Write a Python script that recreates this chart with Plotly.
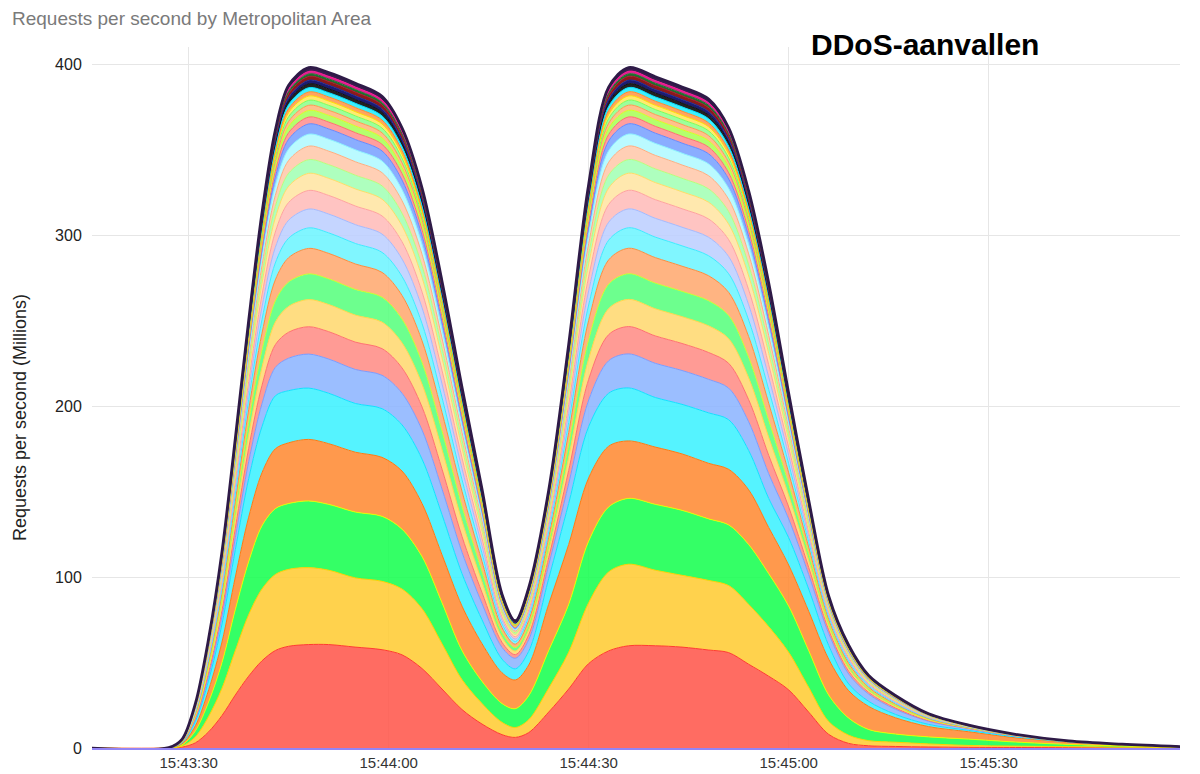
import plotly.graph_objects as go
from datetime import datetime, timedelta

# ---------------- data ----------------
BASE = datetime(2023, 8, 28, 15, 43, 0)
T_SEC = [15, 27, 29, 31, 33, 35, 37, 39, 41, 43, 45, 48, 51, 55, 59, 62, 65, 68, 71, 74,
         77, 79, 81, 84, 87, 90, 93, 96, 100, 104, 108, 111, 114, 117, 120, 123, 126, 129, 132, 136,
         141, 147, 154, 162, 170, 179]

RED = [0, 0, 0.5, 3, 9.5, 19, 31, 42, 51, 57, 59.5, 60.5, 60.5, 59, 57.5, 54.5, 46.5, 34.5, 22.5, 14,
       7.8, 6.2, 9, 21, 34.5, 49.4, 56.8, 59.8, 59.8, 59, 57.3, 55.8, 49, 42, 34, 21, 8, 2.7, 1.3, 0.9,
       0.6, 0.4, 0.3, 0.2, 0.15, 0.1]
YELLOW = [0, 0, 0.6, 3.5, 9, 16, 26, 36, 42, 44.5, 45, 45, 43.5, 40.5, 40, 38.5, 35, 26.5, 17.5, 12,
          7.2, 5.8, 7.5, 14, 21.5, 35.6, 46.2, 47.7, 44.2, 42, 40.7, 39.2, 35, 29, 22, 14.5, 7.5, 4.8, 3, 2.5,
          1.8, 1.1, 0.8, 0.6, 0.35, 0.1]
GREEN = [0, 0, 0.7, 3.5, 8.5, 15, 24, 31, 37, 38.5, 38.5, 39, 38.5, 38.5, 38, 35, 30.5, 24, 17, 13,
         11, 11, 14, 22, 28, 36, 38, 38.5, 38.5, 38, 36, 35.5, 35, 31, 27, 21.5, 15.5, 10, 6.5, 4.8,
         4.1, 3.7, 2.4, 1.3, 0.7, 0.25]
ORANGE = [0, 0.02, 0.6, 3, 7, 12, 19, 26, 31, 35, 35.5, 36, 35.5, 35, 34.5, 34, 31, 28, 26, 22,
          18, 16.8, 18, 27, 35, 37, 35.5, 33.6, 33.5, 33, 32.5, 32.5, 32, 27, 24, 23, 21, 16, 13.5, 9.5,
          6, 4.3, 2.5, 1.3, 0.7, 0.2]
CYAN = [0, 0.03, 0.6, 2.6, 5.7, 10.5, 16, 22.5, 27, 31, 30.5, 30, 29.5, 28.5, 28.5, 27, 26, 23.5, 19, 14,
        8, 6.5, 8, 15, 24, 30, 31, 31, 29, 29, 29.5, 29, 23, 17, 16, 13, 8, 4, 3, 2,
        1.3, 0.8, 0.5, 0.2, 0.1, 0.05]
BLUE = [0, 0.02, 0.2, 1.1, 2.6, 4.5, 7.0, 9.9, 13.4, 16.6, 19.0, 19.9, 20.0, 19.9, 19.5, 18.5, 17.0, 15.0, 12.5, 9.5,
        6.8, 6.2, 6.8, 8.0, 11.5, 15.5, 19.0, 19.9, 20.0, 19.8, 19.6, 18.5, 16.8, 14.5, 11.0, 8.5, 7.0, 5.8, 4.2, 3.0,
        1.8, 1.0, 0.5, 0.2, 0.08, 0.03]
SALMON = [0, 0.02, 0.18, 0.9, 2.1, 3.6, 5.6, 7.9, 10.7, 13.3, 15.2, 16.0, 16.0, 16.0, 15.6, 14.8, 13.5, 11.6, 9.2, 6.4,
          3.0, 2.1, 2.9, 4.2, 7.8, 12.1, 15.3, 16.0, 16.0, 15.8, 15.7, 14.5, 12.9, 10.7, 7.0, 4.2, 2.1, 1.6, 1.0, 0.77,
          0.42, 0.19, 0.1, 0.03, 0.02, 0.01]
LIGHT_YELLOW = [0, 0.02, 0.18, 0.9, 2.1, 3.5, 5.5, 7.8, 10.6, 13.2, 15.1, 15.9, 15.9, 15.8, 15.5, 14.7, 13.4, 11.5, 9.1, 6.3,
                3.0, 2.1, 2.9, 4.2, 7.7, 12.0, 15.2, 15.9, 15.9, 15.7, 15.6, 14.4, 12.8, 10.6, 6.9, 4.1, 2.1, 1.6, 1.0, 0.76,
                0.41, 0.19, 0.1, 0.03, 0.02, 0.01]
LIGHT_GREEN = [0, 0.02, 0.17, 0.8, 2.0, 3.4, 5.2, 7.4, 10.0, 12.4, 14.3, 15.0, 15.0, 15.0, 14.6, 13.9, 12.7, 10.9, 8.7, 6.0,
               2.8, 2.0, 2.7, 3.9, 7.3, 11.3, 14.3, 15.0, 15.0, 14.8, 14.7, 13.6, 12.1, 10.0, 6.6, 3.9, 2.0, 1.5, 1.0, 0.72,
               0.39, 0.18, 0.09, 0.03, 0.02, 0.01]
LIGHT_ORANGE = [0, 0.02, 0.17, 0.8, 1.9, 3.3, 5.1, 7.3, 9.9, 12.3, 14.2, 14.9, 14.9, 14.9, 14.5, 13.8, 12.6, 10.8, 8.6, 5.9,
                2.8, 2.0, 2.7, 3.9, 7.2, 11.2, 14.2, 14.9, 14.9, 14.7, 14.6, 13.5, 12.0, 9.9, 6.5, 3.9, 2.0, 1.5, 1.0, 0.71,
                0.39, 0.18, 0.09, 0.03, 0.02, 0.01]
LIGHT_CYAN = [0, 0.01, 0.13, 0.7, 1.6, 2.7, 4.2, 5.9, 8.0, 9.9, 11.4, 12.0, 12.0, 12.0, 11.7, 11.1, 10.1, 8.7, 6.9, 4.8,
              2.2, 1.6, 2.2, 3.1, 5.8, 9.0, 11.5, 12.0, 12.0, 11.9, 11.7, 10.9, 9.7, 8.0, 5.3, 3.1, 1.6, 1.2, 0.78, 0.58,
              0.31, 0.14, 0.07, 0.02, 0.01, 0.01]
LAVENDER = [0, 0.01, 0.12, 0.6, 1.4, 2.5, 3.8, 5.4, 7.3, 9.1, 10.5, 11.0, 11.0, 11.0, 10.7, 10.2, 9.3, 8.0, 6.4, 4.4,
            2.0, 1.4, 2.0, 2.9, 5.4, 8.3, 10.5, 11.0, 11.0, 10.9, 10.8, 10.0, 8.9, 7.3, 4.8, 2.9, 1.4, 1.1, 0.72, 0.53,
            0.29, 0.13, 0.07, 0.02, 0.01, 0.01]
PINK = [0, 0.01, 0.12, 0.6, 1.4, 2.4, 3.7, 5.3, 7.2, 9.0, 10.4, 10.9, 10.9, 10.9, 10.6, 10.1, 9.2, 7.9, 6.3, 4.4,
        2.0, 1.4, 2.0, 2.8, 5.3, 8.2, 10.4, 10.9, 10.9, 10.8, 10.7, 9.9, 8.8, 7.2, 4.8, 2.8, 1.4, 1.1, 0.71, 0.52,
        0.28, 0.13, 0.07, 0.02, 0.01, 0.01]
CREAM = [0, 0.01, 0.11, 0.6, 1.3, 2.3, 3.5, 5.0, 6.7, 8.3, 9.5, 10.0, 10.0, 10.0, 9.8, 9.3, 8.5, 7.3, 5.8, 4.0,
         1.9, 1.3, 1.8, 2.6, 4.9, 7.5, 9.6, 10.0, 10.0, 9.9, 9.8, 9.1, 8.1, 6.7, 4.4, 2.6, 1.3, 1.0, 0.65, 0.48,
         0.26, 0.12, 0.06, 0.02, 0.01, 0.01]
MINT = [0, 0.01, 0.09, 0.4, 1.0, 1.8, 2.8, 4.0, 5.3, 6.6, 7.6, 8.0, 8.0, 8.0, 7.8, 7.4, 6.8, 5.8, 4.6, 3.2,
        1.5, 1.0, 1.4, 2.1, 3.9, 6.0, 7.6, 8.0, 8.0, 7.9, 7.8, 7.3, 6.5, 5.3, 3.5, 2.1, 1.0, 0.8, 0.52, 0.38,
        0.21, 0.1, 0.05, 0.02, 0.01, 0.0]
PEACH = [0, 0.01, 0.09, 0.4, 1.0, 1.8, 2.7, 3.9, 5.2, 6.5, 7.5, 7.9, 7.9, 7.9, 7.7, 7.3, 6.7, 5.7, 4.5, 3.1,
         1.5, 1.0, 1.4, 2.0, 3.8, 5.9, 7.5, 7.9, 7.9, 7.8, 7.7, 7.2, 6.4, 5.2, 3.4, 2.0, 1.0, 0.8, 0.51, 0.37,
         0.2, 0.1, 0.05, 0.02, 0.01, 0.0]
PALE_CYAN = [0, 0.01, 0.08, 0.4, 0.9, 1.6, 2.4, 3.5, 4.7, 5.8, 6.7, 7.0, 7.0, 7.0, 6.8, 6.5, 5.9, 5.1, 4.0, 2.8,
             1.3, 0.9, 1.3, 1.8, 3.4, 5.3, 6.7, 7.0, 7.0, 6.9, 6.9, 6.4, 5.6, 4.7, 3.1, 1.8, 0.9, 0.7, 0.46, 0.34,
             0.18, 0.08, 0.04, 0.01, 0.01, 0.0]
BLUE_2 = [0, 0.01, 0.07, 0.3, 0.8, 1.4, 2.1, 3.0, 4.0, 5.0, 5.7, 6.0, 6.0, 6.0, 5.9, 5.6, 5.1, 4.4, 3.5, 2.4,
          1.1, 0.8, 1.1, 1.6, 2.9, 4.5, 5.7, 6.0, 6.0, 5.9, 5.9, 5.5, 4.8, 4.0, 2.6, 1.6, 0.8, 0.6, 0.39, 0.29,
          0.16, 0.07, 0.04, 0.01, 0.01, 0.0]
SALMON_2 = [0, 0.0, 0.04, 0.2, 0.5, 0.9, 1.4, 2.0, 2.7, 3.3, 3.8, 4.0, 4.0, 4.0, 3.9, 3.7, 3.4, 2.9, 2.3, 1.6,
            0.74, 0.52, 0.72, 1.0, 1.9, 3.0, 3.8, 4.0, 4.0, 4.0, 3.9, 3.6, 3.2, 2.7, 1.8, 1.0, 0.52, 0.4, 0.26, 0.19,
            0.1, 0.05, 0.02, 0.01, 0.0, 0.0]
LIME = [0, 0.0, 0.04, 0.2, 0.5, 0.9, 1.4, 1.9, 2.6, 3.2, 3.7, 3.9, 3.9, 3.9, 3.8, 3.6, 3.3, 2.8, 2.2, 1.6,
        0.72, 0.5, 0.7, 1.0, 1.9, 2.9, 3.7, 3.9, 3.9, 3.9, 3.8, 3.5, 3.1, 2.6, 1.7, 1.0, 0.5, 0.39, 0.25, 0.18,
        0.1, 0.05, 0.02, 0.01, 0.0, 0.0]
PALE_ORANGE = [0, 0.0, 0.03, 0.17, 0.4, 0.7, 1.0, 1.5, 2.0, 2.5, 2.9, 3.0, 3.0, 3.0, 2.9, 2.8, 2.5, 2.2, 1.7, 1.2,
               0.56, 0.39, 0.54, 0.78, 1.5, 2.3, 2.9, 3.0, 3.0, 3.0, 2.9, 2.7, 2.4, 2.0, 1.3, 0.78, 0.39, 0.3, 0.2, 0.14,
               0.08, 0.04, 0.02, 0.01, 0.0, 0.0]
PALE_GREEN = [0, 0.0, 0.03, 0.16, 0.4, 0.7, 1.0, 1.4, 1.9, 2.4, 2.8, 2.9, 2.9, 2.9, 2.8, 2.7, 2.5, 2.1, 1.7, 1.2,
              0.54, 0.38, 0.52, 0.76, 1.4, 2.2, 2.8, 2.9, 2.9, 2.9, 2.8, 2.6, 2.3, 1.9, 1.3, 0.76, 0.38, 0.29, 0.19, 0.14,
              0.08, 0.04, 0.02, 0.01, 0.0, 0.0]
YELLOW_2 = [0, 0.0, 0.03, 0.14, 0.33, 0.57, 0.87, 1.2, 1.7, 2.1, 2.4, 2.5, 2.5, 2.5, 2.4, 2.3, 2.1, 1.8, 1.4, 1.0,
            0.46, 0.33, 0.45, 0.65, 1.2, 1.9, 2.4, 2.5, 2.5, 2.5, 2.4, 2.3, 2.0, 1.7, 1.1, 0.65, 0.33, 0.25, 0.16, 0.12,
            0.07, 0.03, 0.02, 0.01, 0.0, 0.0]
ORANGE_2 = [0, 0.0, 0.03, 0.14, 0.32, 0.56, 0.86, 1.2, 1.6, 2.0, 2.3, 2.4, 2.4, 2.4, 2.3, 2.2, 2.0, 1.7, 1.4, 1.0,
            0.45, 0.32, 0.44, 0.63, 1.2, 1.8, 2.3, 2.4, 2.4, 2.4, 2.3, 2.2, 1.9, 1.6, 1.1, 0.63, 0.32, 0.24, 0.16, 0.12,
            0.07, 0.03, 0.02, 0.01, 0.0, 0.0]
CYAN_2 = [0, 0.0, 0.03, 0.14, 0.33, 0.57, 0.87, 1.2, 1.7, 2.1, 2.4, 2.5, 2.5, 2.5, 2.4, 2.3, 2.1, 1.8, 1.4, 1.0,
          0.46, 0.33, 0.45, 0.65, 1.2, 1.9, 2.4, 2.5, 2.5, 2.5, 2.4, 2.3, 2.0, 1.7, 1.1, 0.65, 0.33, 0.25, 0.16, 0.12,
          0.07, 0.03, 0.02, 0.01, 0.0, 0.0]
BLACK = [0, 0.0, 0.02, 0.12, 0.29, 0.5, 0.77, 1.09, 1.47, 1.82, 2.09, 2.19, 2.2, 2.19, 2.15, 2.04, 1.86, 1.6, 1.27, 0.88,
         0.41, 0.29, 0.4, 0.57, 1.07, 1.66, 2.1, 2.19, 2.2, 2.18, 2.15, 2.0, 1.78, 1.47, 0.97, 0.57, 0.29, 0.22, 0.14, 0.11,
         0.06, 0.03, 0.01, 0.0, 0.0, 0.0]
NAVY = [0, 0.0, 0.02, 0.12, 0.28, 0.49, 0.75, 1.06, 1.43, 1.78, 2.04, 2.14, 2.15, 2.14, 2.1, 1.99, 1.82, 1.56, 1.24, 0.86,
        0.4, 0.28, 0.39, 0.56, 1.05, 1.62, 2.05, 2.14, 2.15, 2.13, 2.1, 1.95, 1.74, 1.44, 0.94, 0.56, 0.28, 0.21, 0.14, 0.1,
        0.06, 0.03, 0.01, 0.0, 0.0, 0.0]
DARK_RED = [0, 0.0, 0.02, 0.12, 0.29, 0.5, 0.77, 1.09, 1.47, 1.82, 2.09, 2.19, 2.2, 2.19, 2.15, 2.04, 1.86, 1.6, 1.27, 0.88,
            0.41, 0.29, 0.4, 0.57, 1.07, 1.66, 2.1, 2.19, 2.2, 2.18, 2.15, 2.0, 1.78, 1.47, 0.97, 0.57, 0.29, 0.22, 0.14, 0.11,
            0.06, 0.03, 0.01, 0.0, 0.0, 0.0]
DARK_GREEN = [0, 0.0, 0.02, 0.08, 0.2, 0.34, 0.52, 0.74, 1.0, 1.24, 1.43, 1.5, 1.5, 1.5, 1.46, 1.39, 1.27, 1.09, 0.87, 0.6,
              0.28, 0.2, 0.27, 0.39, 0.73, 1.13, 1.43, 1.5, 1.5, 1.48, 1.47, 1.36, 1.21, 1.0, 0.66, 0.39, 0.2, 0.15, 0.1, 0.07,
              0.04, 0.02, 0.01, 0.0, 0.0, 0.0]
MAGENTA = [0, 0.0, 0.02, 0.08, 0.2, 0.34, 0.52, 0.74, 1.0, 1.24, 1.43, 1.5, 1.5, 1.5, 1.46, 1.39, 1.27, 1.09, 0.87, 0.6,
           0.28, 0.2, 0.27, 0.39, 0.73, 1.13, 1.43, 1.5, 1.5, 1.48, 1.47, 1.36, 1.21, 1.0, 0.66, 0.39, 0.2, 0.15, 0.1, 0.07,
           0.04, 0.02, 0.01, 0.0, 0.0, 0.0]
PURPLE = [0, 0.0, 0.02, 0.12, 0.29, 0.5, 0.77, 1.09, 1.47, 1.82, 2.09, 2.19, 2.2, 2.19, 2.15, 2.04, 1.86, 1.6, 1.27, 0.88,
          0.41, 0.29, 0.4, 0.57, 1.07, 1.66, 2.1, 2.19, 2.2, 2.18, 2.15, 2.0, 1.78, 1.47, 0.97, 0.57, 0.29, 0.22, 0.14, 0.11,
          0.06, 0.03, 0.01, 0.0, 0.0, 0.0]

# (series values, fill colour as seen on white, line colour), bottom to top
SERIES = [
    ("Area 01", RED, (255, 108, 98), "#FF3B30"),
    ("Area 02", YELLOW, (255, 210, 77), "#FFD000"),
    ("Area 03", GREEN, (52, 255, 102), "#E2FF00"),
    ("Area 04", ORANGE, (255, 153, 77), "#FF7A10"),
    ("Area 05", CYAN, (85, 243, 255), "#10E2FF"),
    ("Area 06", BLUE, (155, 190, 255), "#7B9CFF"),
    ("Area 07", SALMON, (255, 155, 150), "#FF7070"),
    ("Area 08", LIGHT_YELLOW, (255, 221, 130), "#FFD84A"),
    ("Area 09", LIGHT_GREEN, (110, 255, 142), "#C8FF2E"),
    ("Area 10", LIGHT_ORANGE, (255, 180, 130), "#FF8C3C"),
    ("Area 11", LIGHT_CYAN, (128, 246, 255), "#3DEBFF"),
    ("Area 12", LAVENDER, (197, 213, 255), "#A3BAFF"),
    ("Area 13", PINK, (255, 196, 194), "#FFA2A0"),
    ("Area 14", CREAM, (255, 232, 174), "#FFDD66"),
    ("Area 15", MINT, (174, 255, 190), "#B8FF7A"),
    ("Area 16", PEACH, (255, 207, 181), "#FFAE80"),
    ("Area 17", PALE_CYAN, (186, 250, 255), "#8CF3FF"),
    ("Area 18", BLUE_2, (138, 173, 255), "#6489FF"),
    ("Area 19", SALMON_2, (255, 158, 158), "#FF7070"),
    ("Area 20", LIME, (180, 255, 110), "#D8FF20"),
    ("Area 21", PALE_ORANGE, (255, 192, 140), "#FF9A50"),
    ("Area 22", PALE_GREEN, (156, 255, 156), "#7CFF5A"),
    ("Area 23", YELLOW_2, (255, 234, 112), "#FFE000"),
    ("Area 24", ORANGE_2, (255, 164, 96), "#FF8A2A"),
    ("Area 25", CYAN_2, (60, 240, 255), "#00E0FF"),
    ("Area 26", BLACK, (34, 34, 34), "#111111"),
    ("Area 27", NAVY, (28, 28, 112), "#1A2A9A"),
    ("Area 28", DARK_RED, (139, 26, 26), "#B0102A"),
    ("Area 29", DARK_GREEN, (30, 110, 46), "#1E7A30"),
    ("Area 30", MAGENTA, (224, 32, 143), "#FF1493"),
    ("Area 31", PURPLE, (58, 30, 80), "#2E1A47"),
]

for name, vals, _, _ in SERIES:
    assert len(vals) == len(T_SEC), (name, len(vals))

TITLE = "Requests per second by Metropolitan Area"
BADGE = "DDoS-aanvallen"
Y_TITLE = "Requests per second (Millions)"

# ---------------- figure ----------------
FONT = "Liberation Sans, Arial, sans-serif"
times = [BASE + timedelta(seconds=s) for s in T_SEC]


def fill_rgba(comp, a=0.85):
    base = [(c - (1 - a) * 255) / a for c in comp]
    if min(base) < 0:
        return "rgb(%d,%d,%d)" % comp
    return "rgba(%d,%d,%d,%.2f)" % (round(base[0]), round(base[1]), round(base[2]), a)


fig = go.Figure()
n = len(SERIES)
for i, (name, vals, comp, lc) in enumerate(SERIES):
    top = i == n - 1
    fig.add_trace(go.Scatter(
        x=times, y=vals, name=name, mode="lines", stackgroup="metro",
        line=dict(color=lc, width=2.8 if top else 1, shape="spline", smoothing=0.9),
        fillcolor=fill_rgba(comp), showlegend=False, hoverinfo="skip",
    ))

fmt = "%Y-%m-%d %H:%M:%S.%f"
x0 = (BASE + timedelta(seconds=15.5)).strftime(fmt)
x1 = (BASE + timedelta(seconds=178.7)).strftime(fmt)

fig.update_layout(
    width=1200, height=774,
    margin=dict(l=92, r=20, t=47, b=26, autoexpand=False),
    paper_bgcolor="white", plot_bgcolor="white",
    font=dict(family=FONT, color="#333333"),
    showlegend=False,
    title=dict(text=TITLE, x=12 / 1200, xanchor="left", xref="container",
               y=1 - 18 / 774, yanchor="middle", yref="container",
               font=dict(family=FONT, size=19, color="#7a7a7a")),
    xaxis=dict(type="date", range=[x0, x1], tickformat="%H:%M:%S",
               tick0=BASE.strftime(fmt), dtick=30000, automargin=False,
               showgrid=True, gridcolor="#e6e6e6", gridwidth=1, zeroline=False,
               showline=True, linecolor="#9384f5", linewidth=2,
               ticks="", tickfont=dict(family=FONT, size=15, color="#333333")),
    yaxis=dict(range=[0, 410], tick0=0, dtick=100, automargin=False,
               showgrid=True, gridcolor="#e6e6e6", gridwidth=1, zeroline=False,
               ticks="outside", ticklen=6, tickcolor="rgba(0,0,0,0)",
               tickfont=dict(family=FONT, size=16, color="#222222")),
    annotations=[
        dict(text=BADGE, xref="paper", yref="paper",
             x=(925 - 92) / 1088, y=(748 - 45) / 701, xanchor="center", yanchor="middle",
             showarrow=False, font=dict(family=FONT, size=30, color="#000000", weight="bold")),
        dict(text=Y_TITLE, xref="paper", yref="paper",
             x=(20 - 92) / 1088, y=(748 - 418) / 701, xanchor="center", yanchor="middle",
             textangle=-90, showarrow=False, font=dict(family=FONT, size=18, color="#222222")),
    ],
)

fig.write_html("out.html")
